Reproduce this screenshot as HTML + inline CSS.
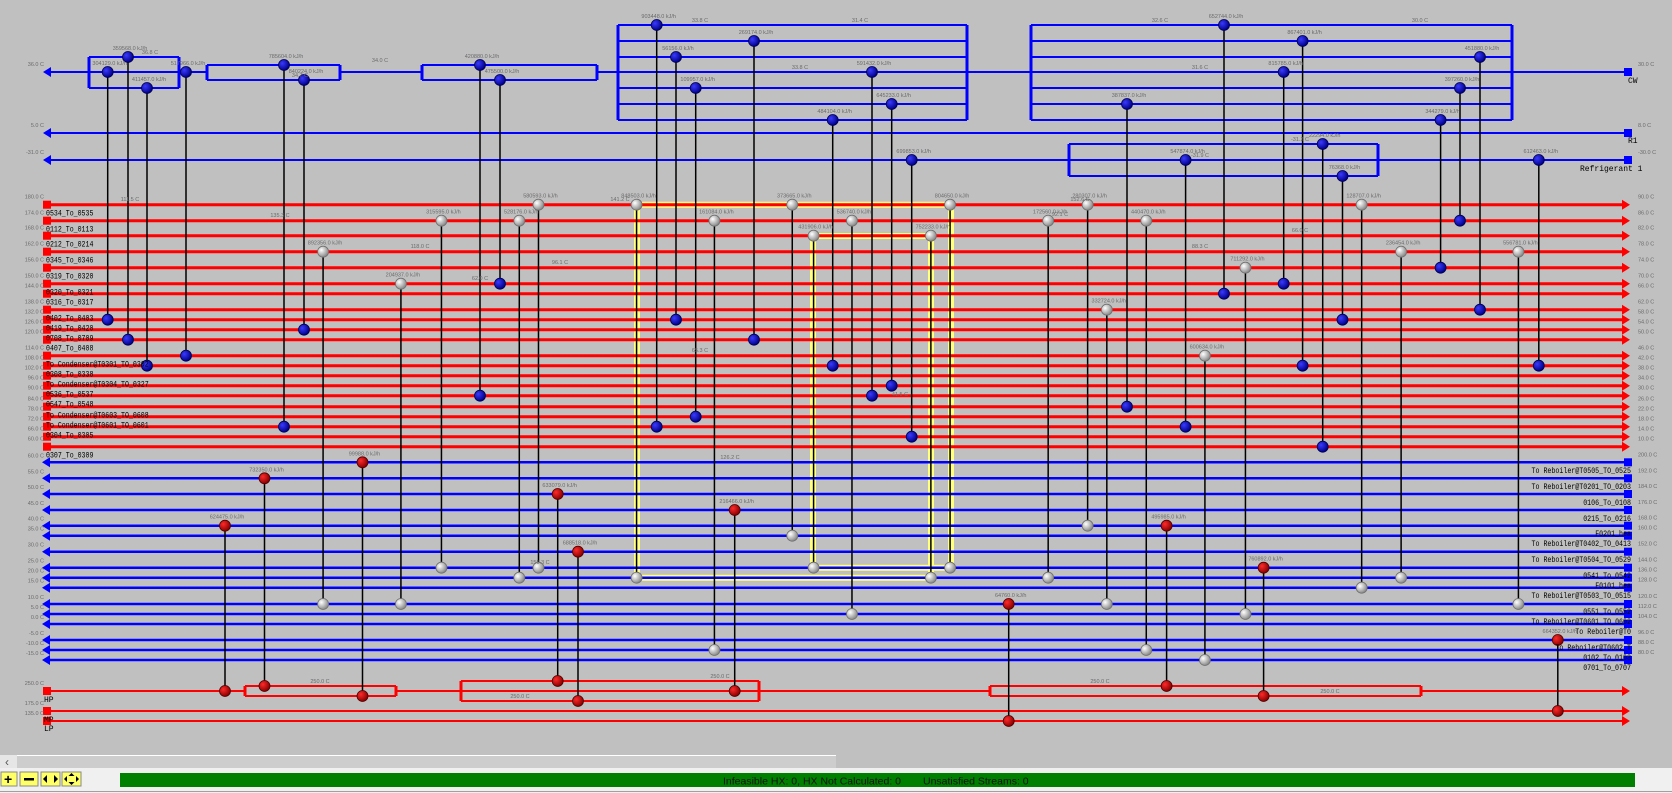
<!DOCTYPE html>
<html><head><meta charset="utf-8">
<style>
html,body{margin:0;padding:0;background:#c0c0c0;width:1672px;height:793px;overflow:hidden}
svg{display:block}
</style></head>
<body>
<svg id="s" width="1672" height="793" xmlns="http://www.w3.org/2000/svg" font-family="Liberation Mono, monospace">
<defs>
<radialGradient id="gb" cx="35%" cy="35%" r="65%"><stop offset="0" stop-color="#3a3aff"/><stop offset="1" stop-color="#00008a"/></radialGradient>
<radialGradient id="gw" cx="35%" cy="35%" r="65%"><stop offset="0" stop-color="#ffffff"/><stop offset="1" stop-color="#8a8a8a"/></radialGradient>
<radialGradient id="gr" cx="35%" cy="35%" r="65%"><stop offset="0" stop-color="#ff2a2a"/><stop offset="1" stop-color="#8a0000"/></radialGradient>
</defs>
<rect x="0" y="0" width="1672" height="755" fill="#c0c0c0"/>
<g id="yel"></g>
<g id="lines"></g>
<g id="vert"></g>
<g id="nodes"></g>
<g id="txt"></g>
<rect x="0" y="755" width="1672" height="13" fill="#c0c0c0"/>
<rect x="0" y="755" width="836" height="13" fill="#cdcdcd"/>
<line x1="0" y1="755.5" x2="836" y2="755.5" stroke="#fff"/>
<rect x="0" y="755" width="17" height="13" fill="#e6e6e6"/>
<text x="5" y="766" font-family="Liberation Sans, sans-serif" font-size="12" fill="#555">‹</text>
<rect x="0" y="768" width="1672" height="25" fill="#f0f0f0"/>
<rect x="120" y="773" width="1515" height="14" fill="#008000"/>
<text x="723" y="784.5" font-family="Liberation Sans, sans-serif" font-size="10.5" fill="#111">Infeasible HX: 0, HX Not Calculated: 0</text>
<text x="923" y="784.5" font-family="Liberation Sans, sans-serif" font-size="10.5" fill="#111">Unsatisfied Streams: 0</text>
<line x1="0" y1="791.5" x2="1672" y2="791.5" stroke="#a0a0a0"/>
<g font-family="Liberation Sans, sans-serif" font-weight="bold">
<rect x="1" y="772" width="16" height="14" fill="#ffff66" stroke="#888"/><text x="4" y="784" font-size="14">+</text>
<rect x="20" y="772" width="18" height="14" fill="#ffff66" stroke="#888"/><rect x="24" y="778" width="10" height="2.5" fill="#000"/>
<rect x="41" y="772" width="19" height="14" fill="#ffff66" stroke="#888"/><path d="M43 779 l4 -4 v8z M58 779 l-4 -4 v8z" fill="#000"/>
<rect x="62" y="772" width="19" height="14" fill="#ffff66" stroke="#888"/><path d="M64 779 l3 -3 v6z M79 779 l-3 -3 v6z M71.5 773 l-3 3 h6z M71.5 785 l-3 -3 h6z" fill="#000"/>
</g>
</svg>
<script>
const NS="http://www.w3.org/2000/svg";
function el(g,t,a,txt){const e=document.createElementNS(NS,t);for(const k in a)e.setAttribute(k,a[k]);if(txt!==undefined)e.textContent=txt;document.getElementById(g).appendChild(e);return e;}
const K=1.0663;
const RED=[204.7,220.7,235.7,251.7,267.7,283.7,293.7,309.7,319.7,329.7,339.7,355.7,365.7,375.7,385.7,395.7,406.7,416.7,426.7,436.7,446.7];
const BLU=[462.3,478.3,494,510,525.7,535.7,551.7,567.7,577.7,587.7,604,614,624,640,650,660];
const snap=(arr,y)=>arr.reduce((b,v)=>Math.abs(v-y)<Math.abs(b-y)?v:b,arr[0]);
const tiny=(x,y,s,anc)=>el('txt','text',{x:x,y:y,'font-size':5.5,fill:'#6a6a6a','text-anchor':anc||'middle','font-family':'Liberation Sans, sans-serif'},s);

function bl(x1,y1,x2,y2,w){el('lines','line',{x1,y1,x2,y2,stroke:'#0000ff','stroke-width':w||2});}
bl(49,72,207,72);bl(340,72,422,72);bl(597,72,1628,72);
el('lines','path',{d:'M43 72 l8 -5 v10z',fill:'#0000ff'});
el('lines','rect',{x:1624,y:68,width:8,height:8,fill:'#0000ff'});
bl(49,133,1628,133); el('lines','path',{d:'M43 133 l8 -5 v10z',fill:'#0000ff'}); el('lines','rect',{x:1624,y:129,width:8,height:8,fill:'#0000ff'});
bl(49,160,1628,160); el('lines','path',{d:'M43 160 l8 -5 v10z',fill:'#0000ff'}); el('lines','rect',{x:1624,y:156,width:8,height:8,fill:'#0000ff'});
function box(x1,x2,ys,col,w){
  const t=Math.min(...ys),b=Math.max(...ys);
  ys.forEach(y=>el('lines','line',{x1:x1,y1:y,x2:x2,y2:y,stroke:col,'stroke-width':w}));
  el('lines','line',{x1:x1,y1:t,x2:x1,y2:b,stroke:col,'stroke-width':w+1});
  el('lines','line',{x1:x2,y1:t,x2:x2,y2:b,stroke:col,'stroke-width':w+1});
}
box(89,179,[57,72,88],'#0000ff',2);
box(207,340,[65,80],'#0000ff',2);
box(422,597,[65,80],'#0000ff',2);
box(618,967,[25,41,57,72,88,104,120],'#0000ff',2);
box(1031,1512,[25,41,57,72,88,104,120],'#0000ff',2);
box(1069,1378,[144,160,176],'#0000ff',2);
[[72,'36.0 C'],[133,'5.0 C'],[160,'-31.0 C']].forEach(a=>tiny(44,a[0]-6,a[1],'end'));
tiny(1638,66,'30.0 C','start');tiny(1638,127,'8.0 C','start');tiny(1638,154,'-30.0 C','start');
el('txt','text',{x:1628,y:83,'font-size':8,fill:'#000'},'CW');
el('txt','text',{x:1628,y:143,'font-size':8,fill:'#000'},'R1');
el('txt','text',{x:1580,y:171,'font-size':8,fill:'#000'},'Refrigerant 1');

RED.forEach((y,i)=>{
  el('lines','line',{x1:46,y1:y,x2:1624,y2:y,stroke:'#ff0000','stroke-width':3});
  el('lines','rect',{x:43,y:y-4,width:8,height:8,fill:'#ff0000'});
  el('lines','path',{d:`M1622 ${y-5} l8 5 l-8 5z`,fill:'#ff0000'});
  tiny(44,y-6,(180-i*6).toFixed(1)+' C','end');
  tiny(1638,y-6,(90-i*4).toFixed(1)+' C','start');
});
const RL=['0534_To_0535','0112_To_0113','0212_To_0214','0345_To_0346','0319_To_0320','0320_To_0321','0316_To_0317','0402_To_0403','0419_To_0420','0708_To_0709','0407_To_0408','To Condenser@T0301_TO_0302','0308_To_0338','To Condenser@T0304_TO_0327','0536_To_0537','0547_To_0548','To Condenser@T0603_TO_0608','To Condenser@T0601_TO_0601','0304_To_0305',null,'0307_To_0309'];
RL.forEach((s,i)=>{if(!s)return;el('txt','text',{x:46,y:RED[i]+11,'font-size':8,fill:'#000',textLength:(s.length*3.95).toFixed(1),lengthAdjust:'spacingAndGlyphs'},s);});

BLU.forEach((y,i)=>{
  el('lines','line',{x1:49,y1:y,x2:1628,y2:y,stroke:'#0000ff','stroke-width':2.5});
  el('lines','path',{d:`M42 ${y} l8 -5 v10z`,fill:'#0000ff'});
  el('lines','rect',{x:1624,y:y-4,width:8,height:8,fill:'#0000ff'});
  tiny(44,y-5,(60-i*5).toFixed(1)+' C','end');
  tiny(1638,y-6,(200-i*8).toFixed(1)+' C','start');
});
const BL=['To Reboiler@T0505_TO_0525','To Reboiler@T0201_TO_0203','0106_To_0108','0215_To_0216','F0201_hea','To Reboiler@T0402_TO_0413','To Reboiler@T0504_TO_0529','0541_To_0542','F0101_hea','To Reboiler@T0503_TO_0515','0551_To_0552','To Reboiler@T0601_TO_0602','To Reboiler@T0','To Reboiler@T0602_T','0102_To_0103','0701_To_0707'];
const BLy=[470,486,502,518,533,543,559,575,585,595,611,621,631,647,657,667];
BL.forEach((s,i)=>{el('txt','text',{x:1631,y:BLy[i]+3,'font-size':8,fill:'#000','text-anchor':'end',textLength:(s.length*3.98).toFixed(1),lengthAdjust:'spacingAndGlyphs'},s);});

function rl(x1,y1,x2,y2,w){el('lines','line',{x1,y1,x2,y2,stroke:'#ff0000','stroke-width':w||2});}
rl(46,691,245,691);rl(396,691,990,691);rl(1421,691,1626,691);rl(46,711,1626,711);rl(46,721,1626,721);
[691,711,721].forEach(y=>{el('lines','rect',{x:43,y:y-4,width:8,height:8,fill:'#ff0000'});el('lines','path',{d:`M1622 ${y-5} l8 5 l-8 5z`,fill:'#ff0000'});});
box(245,396,[686,696],'#ff0000',2);
box(461,759,[681,691,701],'#ff0000',2);
box(990,1421,[686,696],'#ff0000',2);
el('txt','text',{x:44,y:702,'font-size':8,fill:'#000'},'HP');
el('txt','text',{x:44,y:722,'font-size':8,fill:'#000'},'MP');
el('txt','text',{x:44,y:731,'font-size':8,fill:'#000'},'LP');
tiny(44,685,'250.0 C','end');tiny(44,705,'175.0 C','end');tiny(44,715,'135.0 C','end');

const yp='M637 204.7 H951 V567.7 H813 V236 H931 V577.7 H637 Z';
el('yel','path',{d:yp,fill:'none',stroke:'#ffff80','stroke-width':6});

function ex(x,y1,y2,t1,t2){
  el('vert','line',{x1:x,y1:y1,x2:x,y2:y2,stroke:'#000','stroke-width':1.5});
  [[y1,t1],[y2,t2]].forEach(([y,t])=>{
    el('nodes','circle',{cx:x,cy:y,r:5.5,fill:t==='b'?'url(#gb)':t==='w'?'url(#gw)':'url(#gr)',stroke:t==='b'?'#000050':t==='w'?'#707070':'#500000','stroke-width':0.8});
  });
  tiny(x+2,y1-7,(Math.round(x*2731%900000)+10000)+'.0 kJ/h');
}
[[107.7,72,299],[128,57,318],[147,88,343],[186,72,333],[284,65,400],[304,80,309],[480,65,372],[500,80,266],
 [656.7,25,400],[676,57,299],[695.7,88,391],[754,41,319],[832.7,120,343],[872,72,371],[891.7,104,361],[911.7,160,409],
 [1127,104,381],[1185.6,160,400],[1224,25,275],[1283.7,72,266],[1302.6,41,343],[1322.7,144,419],[1342.5,176,300],
 [1440.6,120,251],[1460,88,207],[1480,57,290],[1538.8,160,343]]
.forEach(a=>ex(a[0],a[1],snap(RED,a[2]*K),'b','b'));
[[303,236,566],[376,266,566],[414,207,531],[487,207,541],[505,191,531],[597,191,541],[670,207,608],[743,191,502],
 [763,222,531],[799,207,575],[873,222,541],[891,191,531],[983,207,541],[1020,191,493],[1038,290,568],[1075,207,608],
 [1130,333,618],[1168,251,575],[1277,191,551],[1314,236,541],[1424,236,566]]
.forEach(a=>ex(a[0]*K,snap(RED,a[1]*K),snap(BLU,a[2]*K),'w','w'));
[[225,493,691],[264.5,449,686],[362.5,434,696],[557.7,463,681],[578,517,701],[734.7,478,691],[1008.7,566,721],
 [1166.6,493,686],[1263.6,532,696],[1557.8,600,711]]
.forEach(a=>ex(a[0],snap(BLU,a[1]*K),a[2],'r','r'));
[[130,201,'111.5 C'],[280,217,'135.3 C'],[420,248,'118.0 C'],[560,264,'96.1 C'],[700,352,'65.3 C'],[900,396,'41.5 C'],
 [1080,201,'152.6 C'],[1200,248,'88.3 C'],[620,201,'141.2 C'],[1060,216,'92.1 C'],[480,280,'62.0 C'],[1300,232,'66.0 C'],
 [380,62,'34.0 C'],[700,22,'33.8 C'],[860,22,'31.4 C'],[1160,22,'32.6 C'],[1420,22,'30.0 C'],[800,69,'33.8 C'],[1200,69,'31.6 C'],
 [150,54,'36.8 C'],[300,77,'34.7 C'],[1300,141,'-31.2 C'],[1200,157,'-31.9 C'],[730,459,'126.2 C'],[540,564,'155.3 C'],
 [320,683,'250.0 C'],[720,678,'250.0 C'],[1100,683,'250.0 C'],[1330,693,'250.0 C'],[520,698,'250.0 C']]
.forEach(a=>tiny(a[0],a[1],a[2]));
</script>
</body></html>
